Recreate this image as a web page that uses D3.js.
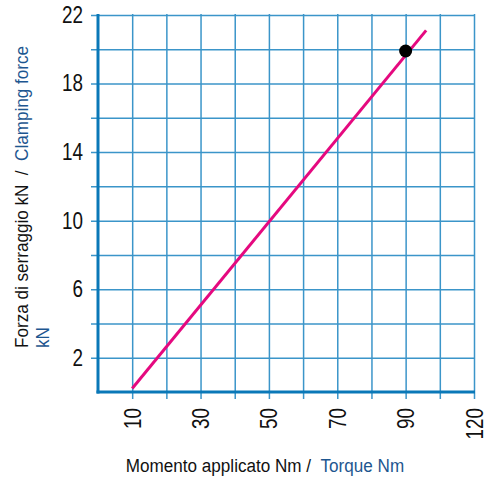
<!DOCTYPE html>
<html>
<head>
<meta charset="utf-8">
<script src="https://cdn.jsdelivr.net/npm/d3@7"></script>
<style>
  body { margin: 0; background: #fff; }
  svg { display: block; }
  .lbl { font-family: "Liberation Sans", Arial, sans-serif; white-space: pre; }
</style>
</head>
<body>
<div id="chart"></div>
<script>
// valori
const torqueTicks = [10, 20, 30, 40, 50, 60, 70, 80, 90, 100, 110];
const torqueLabels = {10: "10", 30: "30", 50: "50", 70: "70", 90: "90", 110: "120"};
const forceTicks = [2, 4, 6, 8, 10, 12, 14, 16, 18, 20, 22];
const forceLabels = [2, 6, 10, 14, 18, 22];
const lineTorque = [10, 96];
const lineForce = [0.2, 21.1];
const pointTorque = [90];
const pointForce = [19.9];

const W = 487, H = 477;
const m = {left: 98, right: 13, top: 15, bottom: 85};
const pw = W - m.left - m.right, ph = H - m.top - m.bottom;

const gridCol = "#3b95c9", axisCol = "#0a78b8", blueTxt = "#1d5690";
const narrow = 0.82; // testo condensato come nell'originale

const svg = d3.select("#chart").append("svg")
	.attr("width", W).attr("height", H);

const x = d3.scaleLinear().domain([0, 110]).range([m.left, m.left + pw]);
const y = d3.scaleLinear().domain([0, 22]).range([m.top + ph, m.top]);

// griglia orizzontale + tacche a sinistra
const gy = svg.append("g")
	.attr("transform", `translate(${m.left - 7},0)`)
	.call(d3.axisLeft(y).tickValues(forceTicks)
		.tickSize(-(pw + 8)).tickPadding(0)
		.tickFormat(d => forceLabels.includes(d) ? d : ""));
gy.select(".domain").remove();
gy.selectAll("line").attr("stroke", gridCol).attr("stroke-width", 1.5);
gy.selectAll("text")
	.attr("class", "lbl").attr("font-size", 23).attr("fill", "#111")
	.attr("x", 0)
	.attr("transform", `translate(-8,0) scale(${narrow},1)`);

// griglia verticale + tacche in basso
const gx = svg.append("g")
	.attr("transform", `translate(0,${m.top + ph + 7})`)
	.call(d3.axisBottom(x).tickValues(torqueTicks)
		.tickSize(-(ph + 8)).tickPadding(0)
		.tickFormat(d => torqueLabels[d] || ""));
gx.select(".domain").remove();
gx.selectAll("line").attr("stroke", gridCol).attr("stroke-width", 1.5);
gx.selectAll("text")
	.attr("class", "lbl")
	.attr("font-size", 23).attr("fill", "#111")
	.attr("text-anchor", "end")
	.attr("dy", "0.35em")
	.attr("transform", `translate(0,9) rotate(-90) scale(${narrow},1)`)
	.attr("y", 0).attr("x", 0);

// assi
svg.append("line")
	.attr("x1", x(0)).attr("x2", x(0))
	.attr("y1", y(22) - 1).attr("y2", y(0) + 1.5)
	.attr("stroke", axisCol).attr("stroke-width", 3);
svg.append("line")
	.attr("x1", x(0) - 1.5).attr("x2", x(110) + 1)
	.attr("y1", y(0)).attr("y2", y(0))
	.attr("stroke", axisCol).attr("stroke-width", 3);

// curva
const pts = lineTorque.map((t, i) => [t, lineForce[i]]);
svg.append("path")
	.datum(pts)
	.attr("fill", "none")
	.attr("stroke", "#e5097f")
	.attr("stroke-width", 3)
	.attr("d", d3.line().x(d => x(d[0])).y(d => y(d[1])));

svg.selectAll("circle.pt")
	.data(pointTorque.map((t, i) => [t, pointForce[i]]))
	.join("circle")
	.attr("class", "pt")
	.attr("cx", d => x(d[0])).attr("cy", d => y(d[1]))
	.attr("r", 6.5).attr("fill", "#000");

// titolo asse x
const tx = svg.append("text")
	.attr("class", "lbl")
	.attr("transform", `translate(265,472) scale(0.9,1)`)
	.attr("text-anchor", "middle")
	.attr("font-size", 19);
tx.append("tspan").attr("fill", "#111").text("Momento applicato Nm /  ");
tx.append("tspan").attr("fill", blueTxt).text("Torque Nm");

// titolo asse y
const ty = svg.append("text")
	.attr("class", "lbl")
	.attr("transform", "translate(28,348) rotate(-90) scale(0.9,1)")
	.attr("font-size", 19);
ty.append("tspan").attr("x", 0).attr("y", 0).attr("fill", "#111").text("Forza di serraggio kN  /  ");
ty.append("tspan").attr("fill", blueTxt).text("Clamping force");
ty.append("tspan").attr("x", 0).attr("y", 21).attr("fill", blueTxt).text("kN");
</script>
</body>
</html>
